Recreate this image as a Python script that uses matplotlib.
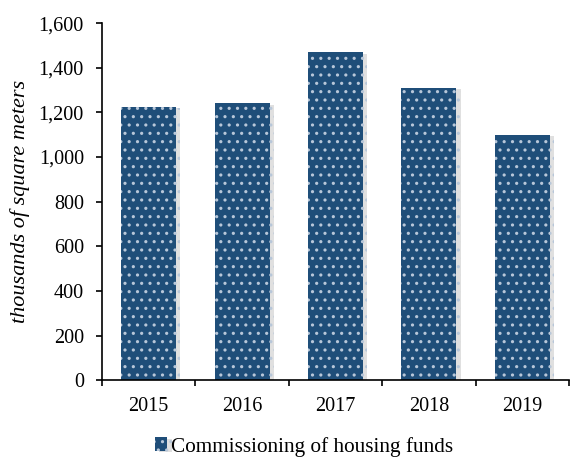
import matplotlib
matplotlib.use("Agg")
import matplotlib.pyplot as plt
import matplotlib.patheffects as pe
from matplotlib.ticker import FuncFormatter, MultipleLocator
import numpy as np

years = ["2015", "2016", "2017", "2018", "2019"]
commissioned = [1225, 1240, 1470, 1310, 1100]
series_name = "Commissioning of housing funds"

plt.rcParams["font.family"] = ["Liberation Serif", "DejaVu Serif"]
plt.rcParams["hatch.linewidth"] = 1.1

fig = plt.figure(figsize=(5.73, 4.62), dpi=100)
ax = fig.add_axes([0.178, 0.177, 0.815, 0.773])

x = np.arange(len(years))
bars = ax.bar(x, commissioned, width=0.59, color="#1F4E79",
              edgecolor="#B8C7D9", linewidth=0, hatch="..",
              label=series_name)
for b in bars:
    b.set_path_effects([pe.SimplePatchShadow(offset=(3, -1), shadow_rgbFace="#999999", alpha=0.3),
                        pe.Normal()])

ax.set_xlim(-0.5, len(years) - 0.5)
ax.set_ylim(0, 1600)
ax.yaxis.set_major_locator(MultipleLocator(200))
ax.yaxis.set_major_formatter(FuncFormatter(lambda v, p: f"{int(v):,}"))
ax.set_xticks(x)
ax.set_xticklabels(years)
ax.set_xticks(np.arange(-0.5, len(years), 1.0), minor=True)
ax.tick_params(axis="x", which="major", length=0, pad=12, labelsize=14.5)
ax.tick_params(axis="x", which="minor", length=4, width=1.2, direction="out")
ax.tick_params(axis="y", length=4, width=1.2, direction="out", labelsize=14.5, pad=9)

for s in ["top", "right"]:
    ax.spines[s].set_visible(False)
for s in ["left", "bottom"]:
    ax.spines[s].set_linewidth(1.2)

ax.set_ylabel("thousands of square meters", style="italic", fontsize=16, labelpad=6)

fig.legend(handles=[bars], labels=[series_name], loc="lower center",
           bbox_to_anchor=(0.53, -0.03), frameon=False, fontsize=15.3,
           handlelength=0.6, handleheight=0.6, handletextpad=0.15)

fig.savefig("out.png", dpi=100)
